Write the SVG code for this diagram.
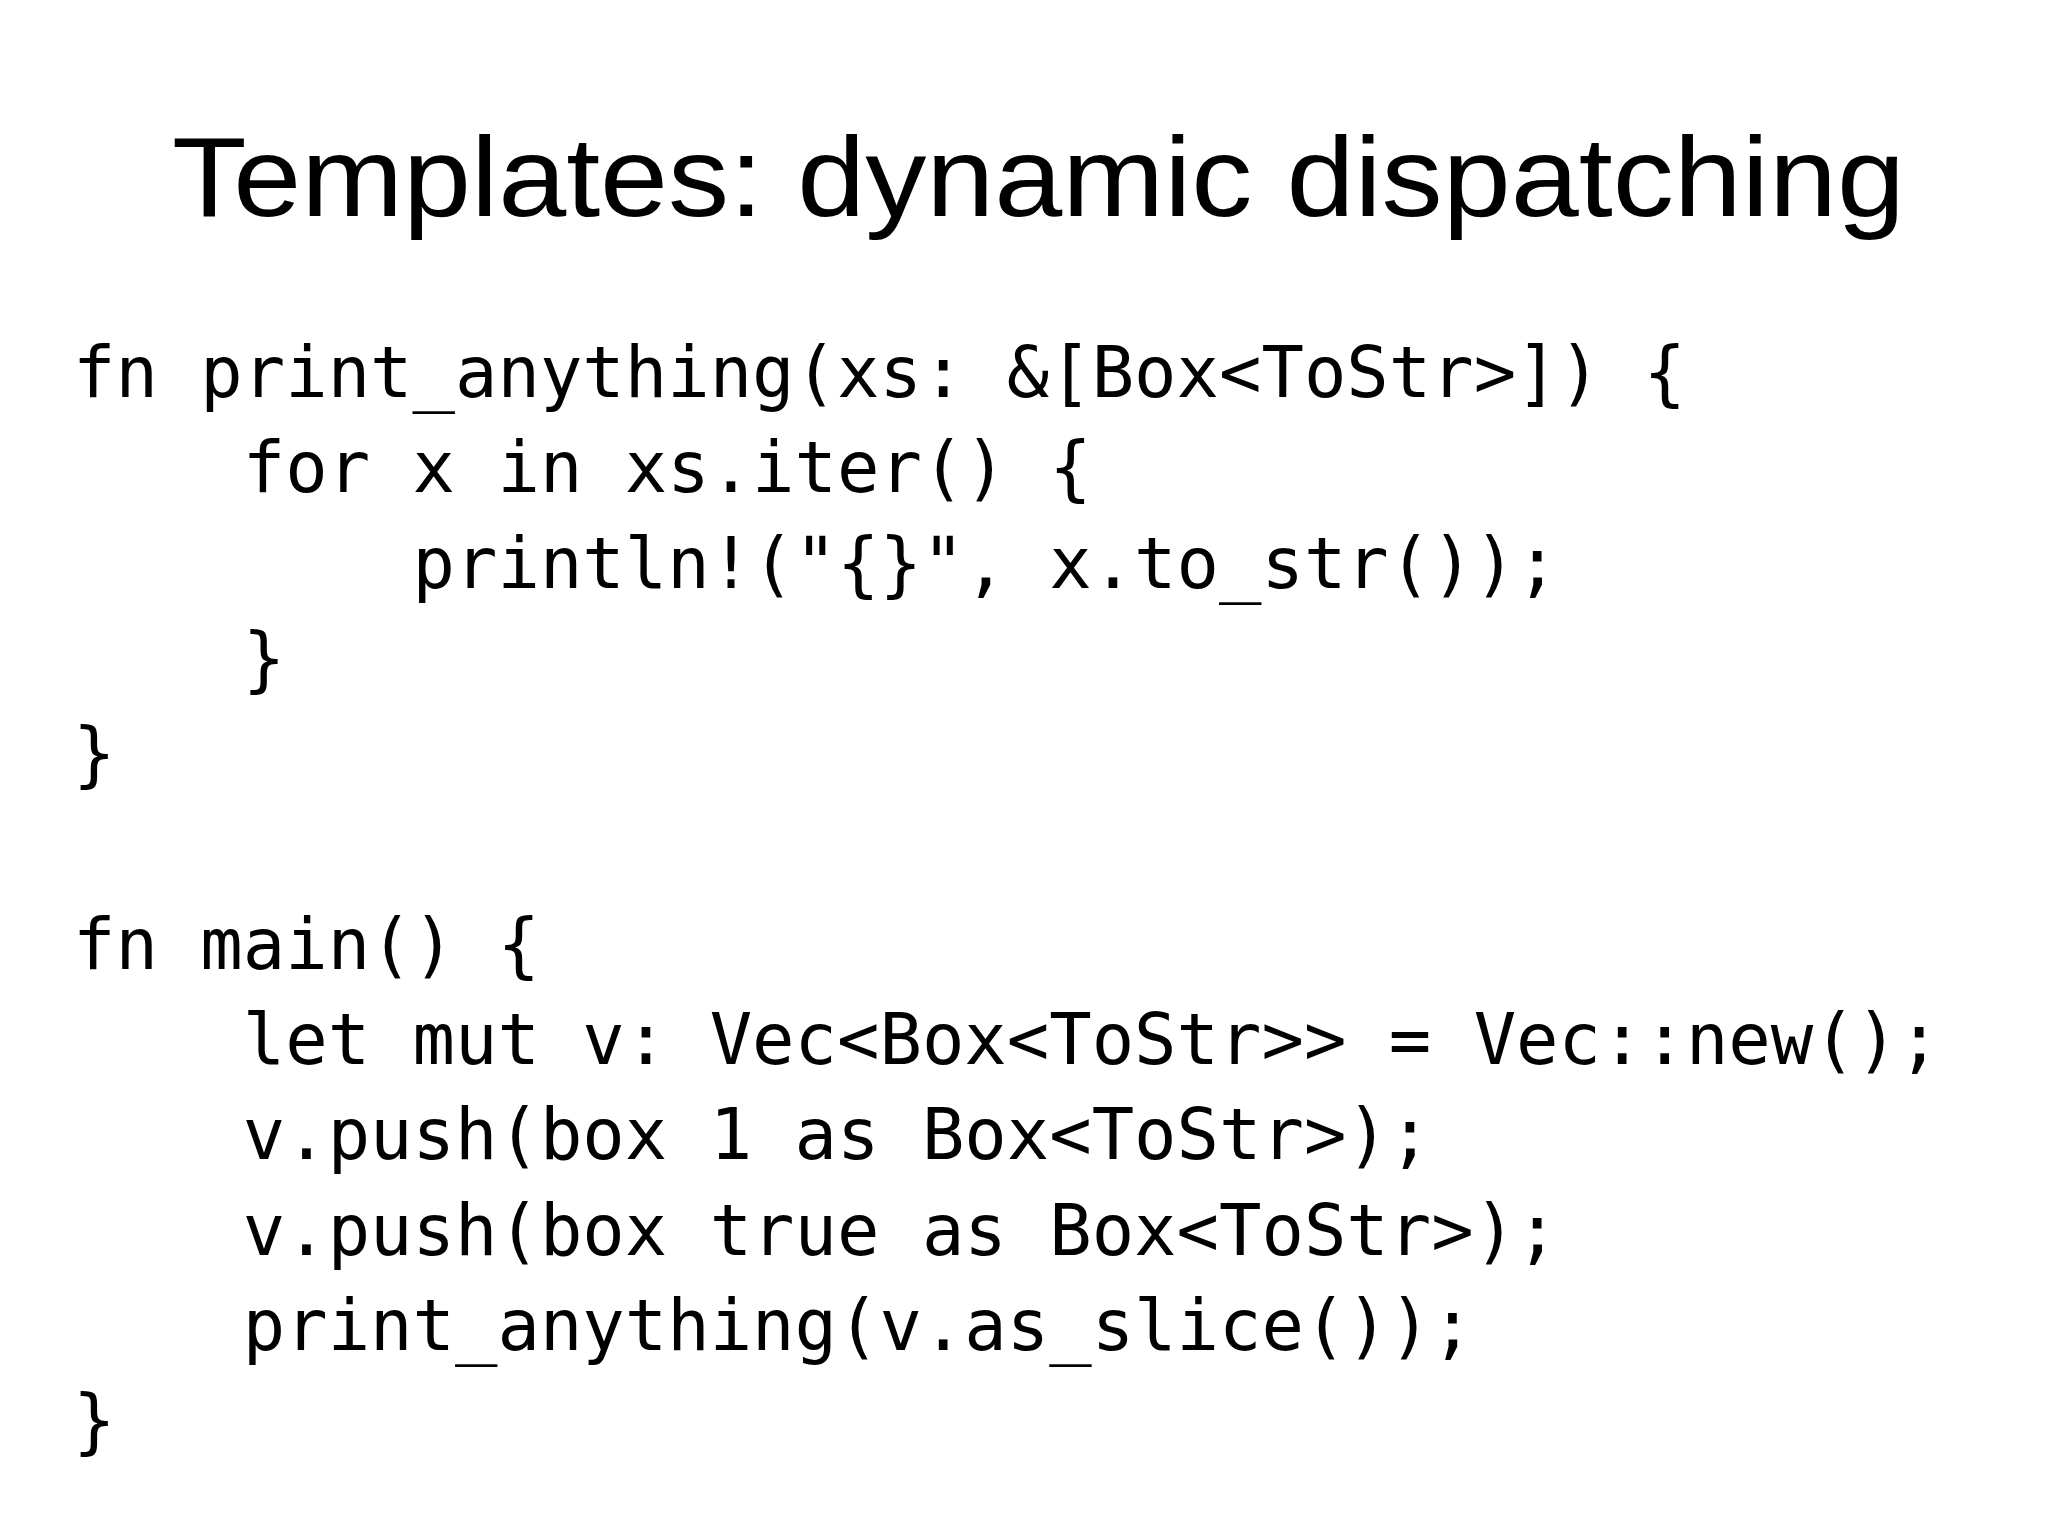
<svg xmlns="http://www.w3.org/2000/svg" width="2048" height="1536" viewBox="0 0 2048 1536">
<style>
.t{font-family:"Liberation Sans","Open Sans",sans-serif;font-size:114px;fill:#000}
.c{font-family:"DejaVu Sans Mono","Liberation Mono",monospace;font-size:70.5px;fill:#000;white-space:pre}
</style>
<rect width="2048" height="1536" fill="#fff"/>
<text class="t" x="172" y="216" textLength="1733" lengthAdjust="spacingAndGlyphs">Templates: dynamic dispatching</text>
<g xml:space="preserve">
<text class="c" x="73" y="397">fn print_anything(xs: &amp;[Box&lt;ToStr&gt;]) {</text>
<text class="c" x="73" y="492">    for x in xs.iter() {</text>
<text class="c" x="73" y="588">        println!("{}", x.to_str());</text>
<text class="c" x="73" y="683">    }</text>
<text class="c" x="73" y="778">}</text>
<text class="c" x="73" y="969">fn main() {</text>
<text class="c" x="73" y="1064">    let mut v: Vec&lt;Box&lt;ToStr&gt;&gt; = Vec::new();</text>
<text class="c" x="73" y="1159">    v.push(box 1 as Box&lt;ToStr&gt;);</text>
<text class="c" x="73" y="1255">    v.push(box true as Box&lt;ToStr&gt;);</text>
<text class="c" x="73" y="1350">    print_anything(v.as_slice());</text>
<text class="c" x="73" y="1445">}</text>
</g>
</svg>
